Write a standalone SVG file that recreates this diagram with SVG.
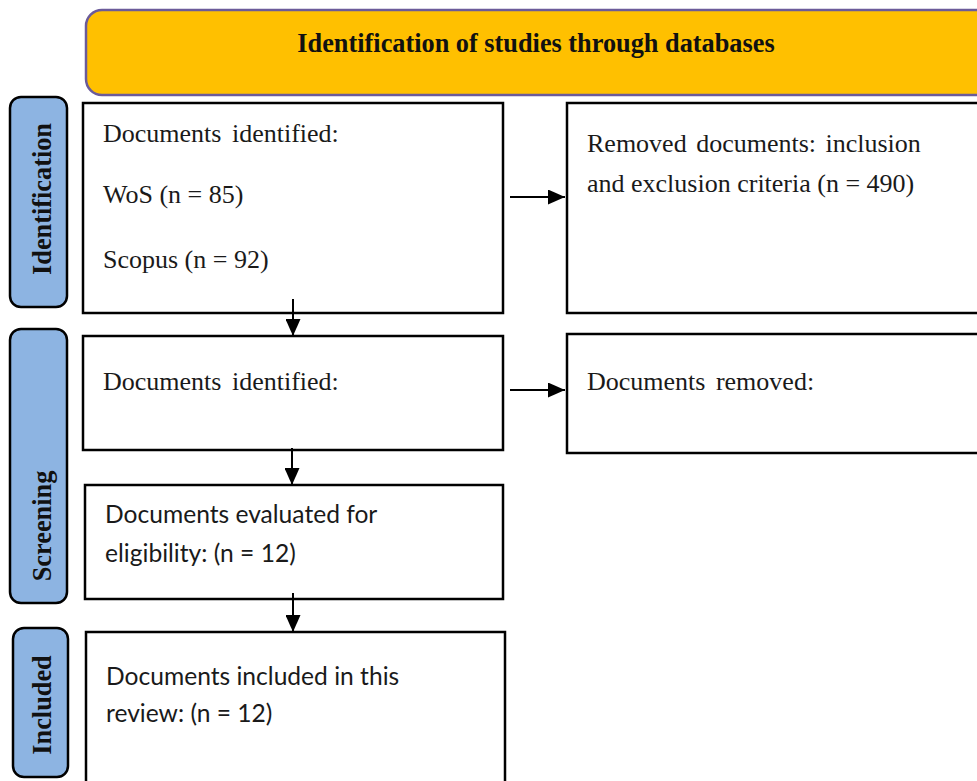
<svg xmlns="http://www.w3.org/2000/svg" width="977" height="781" viewBox="0 0 977 781">
<style>
.box{fill:#fff;stroke:#000;stroke-width:2.5}
.tab{fill:#8DB4E2;stroke:#000;stroke-width:2.5}
.serif{font-family:"Liberation Serif","Times New Roman",serif;font-size:26px;fill:#1a1a1a}
.sans{font-family:Lato,"Liberation Sans",sans-serif;font-size:24.6px;fill:#1a1a1a}
.bold{font-family:"Liberation Serif","Times New Roman",serif;font-size:26.3px;font-weight:bold;fill:#111}
.conn{stroke:#000;stroke-width:2;fill:none}
</style>
<defs>
<marker id="ah" markerWidth="17" markerHeight="15" refX="17" refY="7.5" orient="auto" markerUnits="userSpaceOnUse" viewBox="0 0 17 15">
<path d="M0,0 L17,7.5 L0,15 Z" fill="#000"/>
</marker>
</defs>
<rect width="977" height="781" fill="#fff"/>
<g id="banner">
<rect x="86" y="10" width="910" height="85" rx="16" fill="#FFC000" stroke="#6B5B9A" stroke-width="2.5"/>
<text class="bold" x="536" y="52" text-anchor="middle">Identification of studies through databases</text>
</g>
<g id="tab-identification">
<rect class="tab" x="10" y="97" width="57" height="210" rx="11"/>
<text class="bold" transform="translate(51,199) rotate(-90)" text-anchor="middle">Identification</text>
</g>
<g id="tab-screening">
<rect class="tab" x="10" y="329" width="57" height="274" rx="11"/>
<text class="bold" transform="translate(51,526) rotate(-90)" text-anchor="middle">Screening</text>
</g>
<g id="tab-included">
<rect class="tab" x="13" y="628" width="55" height="149" rx="11"/>
<text class="bold" transform="translate(51,705) rotate(-90)" text-anchor="middle">Included</text>
</g>
<g id="box-identified">
<rect class="box" x="83" y="103" width="420" height="210"/>
<text class="serif" x="103" y="142" word-spacing="4">Documents identified:</text>
<text class="serif" x="103" y="203">WoS (n = 85)</text>
<text class="serif" x="103" y="268">Scopus (n = 92)</text>
</g>
<g id="box-removed-criteria">
<rect class="box" x="567" y="103" width="420" height="210"/>
<text class="serif" x="587" y="152" word-spacing="3">Removed documents: inclusion</text>
<text class="serif" x="587" y="192">and exclusion criteria (n = 490)</text>
</g>
<g id="box-screen-identified">
<rect class="box" x="83" y="336" width="420" height="114"/>
<text class="serif" x="103" y="390" word-spacing="4">Documents identified:</text>
</g>
<g id="box-removed">
<rect class="box" x="567" y="334" width="420" height="119"/>
<text class="serif" x="587" y="390" word-spacing="4">Documents removed:</text>
</g>
<g id="box-eligibility">
<rect class="box" x="85" y="485" width="418" height="114"/>
<text class="sans" x="105" y="523">Documents evaluated for</text>
<text class="sans" x="105" y="562">eligibility: (n = 12)</text>
</g>
<g id="box-included">
<rect class="box" x="86" y="632" width="419" height="160"/>
<text class="sans" x="106" y="685">Documents included in this</text>
<text class="sans" x="106" y="722">review: (n = 12)</text>
</g>
<g id="connectors">
<line class="conn" x1="510" y1="197" x2="565" y2="197" marker-end="url(#ah)"/>
<line class="conn" x1="510" y1="390" x2="565" y2="390" marker-end="url(#ah)"/>
<line class="conn" x1="293" y1="299" x2="293" y2="336" marker-end="url(#ah)"/>
<line class="conn" x1="292" y1="448" x2="292" y2="485" marker-end="url(#ah)"/>
<line class="conn" x1="293" y1="593" x2="293" y2="632" marker-end="url(#ah)"/>
</g>
</svg>
